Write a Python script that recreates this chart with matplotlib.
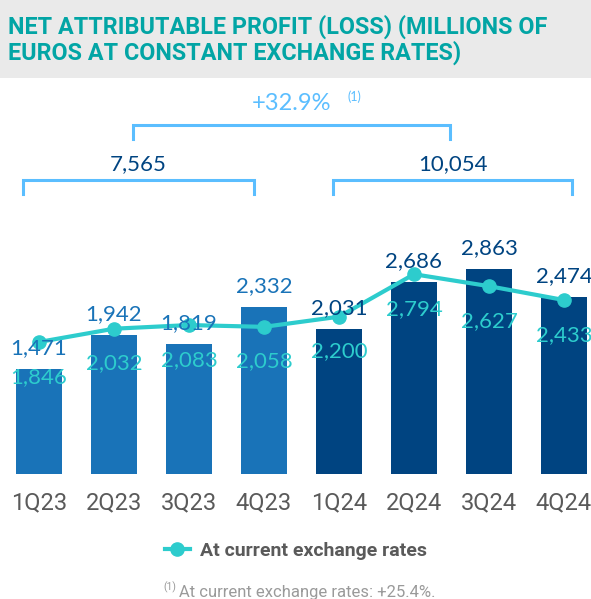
import matplotlib.pyplot as plt
from matplotlib.patches import Rectangle
from matplotlib.transforms import blended_transform_factory

quarters = ['1Q23', '2Q23', '3Q23', '4Q23', '1Q24', '2Q24', '3Q24', '4Q24']
years = [2023, 2023, 2023, 2023, 2024, 2024, 2024, 2024]
constant_fx = [1471, 1942, 1819, 2332, 2031, 2686, 2863, 2474]
current_fx = [1846, 2032, 2083, 2058, 2200, 2794, 2627, 2433]
year_totals = ['7,565', '10,054']
growth_label = '+32.9%'
footnote_text = 'At current exchange rates: +25.4%.'
title_lines = ['NET ATTRIBUTABLE PROFIT (LOSS) (MILLIONS OF',
               'EUROS AT CONSTANT EXCHANGE RATES)']

BLUE_23 = '#1973B8'
NAVY_24 = '#004481'
AQUA = '#2DCCCD'
LIGHT = '#5BBEFF'
TEAL = '#02A5A5'
GREY = '#5A5A5A'

SANS = ['Roboto', 'DejaVu Sans']
NUM = ['Lato', 'DejaVu Sans']

W, H = 591, 599
fig = plt.figure(figsize=(W / 100, H / 100), dpi=100)

# decoration layer in pixel units (y down)
deco = fig.add_axes([0, 0, 1, 1])
deco.set_xlim(0, W)
deco.set_ylim(H, 0)
deco.axis('off')
deco.add_patch(Rectangle((0, 0), W, 78, color='#EAEAEA', lw=0))
for k, line in enumerate(title_lines):
    deco.text(8, 24 + 26.5 * k, line, color=TEAL, fontsize=16.8, fontweight='bold',
              family=SANS, va='center_baseline', ha='left')

# chart layer
ax = fig.add_axes([0, 0, 1, 1])
ax.patch.set_alpha(0)
ax.set_xlim(-0.52, 7.36)
ax.set_ylim(-1748, 6629)
ax.axis('off')

x = list(range(len(quarters)))
colors = [BLUE_23 if yr == 2023 else NAVY_24 for yr in years]
ax.bar(x, constant_fx, width=0.613, color=colors, zorder=1)
ax.plot(x, current_fx, color=AQUA, lw=3, marker='o', ms=9.5, zorder=3,
        label='At current exchange rates')

for i, (v, c) in enumerate(zip(constant_fx, current_fx)):
    ax.annotate(f'{v:,}', (i, v), xytext=(0, 15), textcoords='offset points',
                ha='center', va='center', fontsize=16, family=NUM,
                color=colors[i], zorder=4)
    ax.annotate(f'{c:,}', (i, c), xytext=(0, -25), textcoords='offset points',
                ha='center', va='center', fontsize=16, family=NUM,
                color=AQUA, zorder=4)

mix = blended_transform_factory(ax.transData, deco.transData)
for i, q in enumerate(quarters):
    ax.text(i, 503, q, transform=mix, ha='center', va='center', fontsize=17,
            family=SANS, color=GREY)


def bracket(x0, x1, ytop, ybot, label, color, ylab, size=16):
    deco.plot([x0, x0, x1, x1], [ybot, ytop, ytop, ybot], color=LIGHT, lw=2.2,
              solid_joinstyle='miter')
    deco.text((x0 + x1) / 2, ylab, label, ha='center', va='center',
              fontsize=size, family=NUM, color=color)


bracket(23, 254, 180, 194, year_totals[0], NAVY_24, 164)
bracket(333, 572, 180, 194, year_totals[1], NAVY_24, 164)
bracket(133, 450, 125, 139, growth_label, LIGHT, 103, size=17)
deco.text(347, 97, '(1)', ha='left', va='center', fontsize=9, family=NUM,
          color=LIGHT)

leg = ax.legend(loc='center', bbox_to_anchor=(0.5, 1 - 551 / H),
                bbox_transform=fig.transFigure, frameon=False,
                handlelength=1.3, handletextpad=0.5, labelcolor=GREY,
                prop={'family': SANS, 'weight': 'bold', 'size': 14})

deco.text(179, 592, footnote_text, ha='left', va='center', fontsize=12,
          family=SANS, color='#9A9A9A')
deco.text(176, 587, '(1)', ha='right', va='center', fontsize=7.5,
          family=SANS, color='#9A9A9A')

fig.savefig('out.png', dpi=100)
